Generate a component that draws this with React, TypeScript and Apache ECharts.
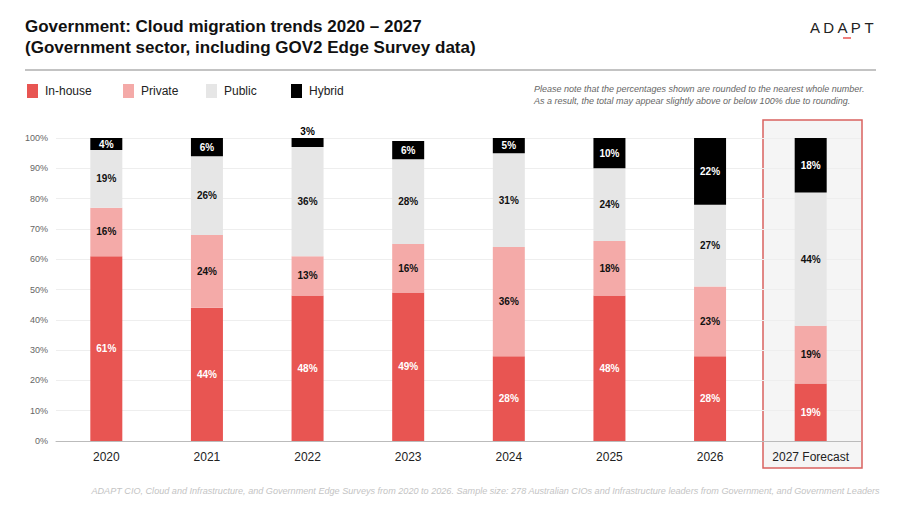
import React, { useEffect, useRef } from "react";
import * as echarts from "echarts";

const categories = ["2020", "2021", "2022", "2023", "2024", "2025", "2026", "2027 Forecast"];
const inHouse = [61, 44, 48, 49, 28, 48, 28, 19];
const privateCloud = [16, 24, 13, 16, 36, 18, 23, 19];
const publicCloud = [19, 26, 36, 28, 31, 24, 27, 44];
const hybrid = [4, 6, 3, 6, 5, 10, 22, 18];
const yTicks = [0, 10, 20, 30, 40, 50, 60, 70, 80, 90, 100];

const FONT = "Liberation Sans, Arial, sans-serif";

export default function App() {
  const ref = useRef<HTMLDivElement>(null);
  useEffect(() => {
    const chart = echarts.init(ref.current!, null, { renderer: "svg" });
    const lbl = (color: string) => ({
      show: true,
      color,
      fontWeight: "bold" as const,
      fontSize: 10,
      fontFamily: FONT,
      formatter: (p: any) => p.value + "%",
    });
    const mk = (name: string, data: number[], color: string, lc: string) => ({
      name,
      type: "bar",
      stack: "s",
      data,
      barWidth: 32,
      itemStyle: { color },
      label: lbl(lc),
    });
    const hyb: any = mk("Hybrid", hybrid, "#000000", "#ffffff");
    hyb.data = hybrid.map((v) =>
      v < 4 ? { value: v, label: { position: "top", color: "#000", distance: 2 } } : v
    );
    const legendItems = [
      { name: "In-house", color: "#e85552", x: 27 },
      { name: "Private", color: "#f4aaa8", x: 123 },
      { name: "Public", color: "#e6e6e6", x: 206 },
      { name: "Hybrid", color: "#000000", x: 291 },
    ];
    const graphic: any[] = [
      { type: "rect", z: -10, shape: { x: 763, y: 120, width: 99, height: 348 }, style: { fill: "#f5f5f5", stroke: "#d9625f", lineWidth: 1.5 } },
      { type: "text", left: 25, top: 18, style: { text: "Government: Cloud migration trends 2020 – 2027", font: `bold 17px ${FONT}`, fill: "#111" } },
      { type: "text", left: 25, top: 39, style: { text: "(Government sector, including GOV2 Edge Survey data)", font: `bold 17px ${FONT}`, fill: "#111" } },
      { type: "line", shape: { x1: 25, y1: 70, x2: 876, y2: 70 }, style: { stroke: "#888", lineWidth: 1.2 } },
      { type: "text", left: 810, top: 20, style: { text: "A D A P T", font: `15px ${FONT}`, fill: "#222" } },
      { type: "line", shape: { x1: 843, y1: 38, x2: 851, y2: 38 }, style: { stroke: "#e85552", lineWidth: 1.5 } },
      { type: "text", left: 534, top: 84, style: { text: "Please note that the percentages shown are rounded to the nearest whole number.", font: `italic 9px ${FONT}`, fill: "#666" } },
      { type: "text", left: 534, top: 96, style: { text: "As a result, the total may appear slightly above or below 100% due to rounding.", font: `italic 9px ${FONT}`, fill: "#666" } },
      { type: "text", right: 20, top: 486, style: { text: "ADAPT CIO, Cloud and Infrastructure, and Government Edge Surveys from 2020 to 2026. Sample size: 278 Australian CIOs and Infrastructure leaders from Government, and Government Leaders", font: `italic 9.1px ${FONT}`, fill: "#c4c4c4" } },
    ];
    legendItems.forEach((l) => {
      graphic.push({ type: "rect", shape: { x: l.x, y: 84, width: 11, height: 14 }, style: { fill: l.color } });
      graphic.push({ type: "text", left: l.x + 18, top: 85, style: { text: l.name, font: `12px ${FONT}`, fill: "#222" } });
    });
    chart.setOption({
      animation: false,
      textStyle: { fontFamily: FONT },
      grid: { left: 56, right: 39, top: 138, bottom: 65 },
      graphic,
      xAxis: {
        type: "category",
        data: categories,
        axisTick: { show: false },
        axisLine: { lineStyle: { color: "#bbb" } },
        axisLabel: { color: "#222", fontSize: 12, margin: 10 },
      },
      yAxis: {
        type: "value",
        min: 0,
        max: 100,
        interval: 10,
        axisLabel: { color: "#666", fontSize: 9, formatter: (v: number) => (yTicks.includes(v) ? v + "%" : "") },
        splitLine: { lineStyle: { color: "#eeeeee" } },
      },
      series: [
        mk("In-house", inHouse, "#e85552", "#ffffff"),
        mk("Private", privateCloud, "#f4aaa8", "#111111"),
        mk("Public", publicCloud, "#e6e6e6", "#111111"),
        hyb,
      ],
    });
    return () => chart.dispose();
  }, []);
  return <div ref={ref} style={{ width: 900, height: 506, position: "absolute", left: 0, top: 0, background: "#fff" }} />;
}
